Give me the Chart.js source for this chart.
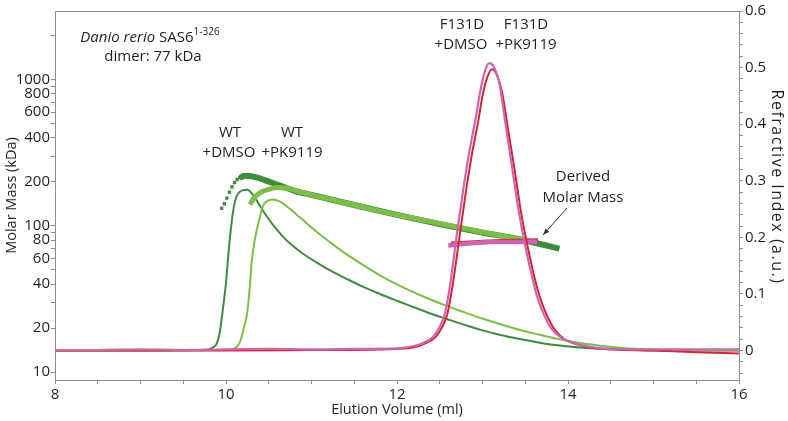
<!DOCTYPE html>
<html>
<head>
<meta charset="utf-8">
<script src="https://cdn.jsdelivr.net/npm/chart.js@4.4.0/dist/chart.umd.min.js"></script>
<style>
  html, body { margin: 0; padding: 0; background: #fff; }
</style>
</head>
<body>
<canvas id="sec" width="788" height="421"></canvas>
<script>
// refractive index traces (elution volume in ml, RI in a.u.)
var wtDmsoRiVol = [8.0, 9.0, 9.6, 9.79, 9.85, 9.89, 9.93, 9.96, 10.0, 10.02, 10.05, 10.08, 10.11, 10.14, 10.19, 10.25, 10.3, 10.36, 10.45, 10.55, 10.65, 10.75, 10.9, 11.1, 11.25, 11.42, 11.6, 11.8, 12.0, 12.19, 12.4, 12.6, 12.8, 12.97, 13.2, 13.45, 13.67, 13.9, 14.26, 14.6, 15.0, 16.0];
var wtDmsoRi = [0, 0, 0.001, 0.002, 0.006, 0.012, 0.035, 0.069, 0.12, 0.156, 0.205, 0.243, 0.266, 0.277, 0.283, 0.284, 0.278, 0.265, 0.243, 0.222, 0.204, 0.189, 0.171, 0.152, 0.139, 0.126, 0.113, 0.1, 0.088, 0.077, 0.065, 0.055, 0.045, 0.037, 0.028, 0.02, 0.014, 0.009, 0.004, 0.002, 0, 0];

var wtPkRiVol = [8.0, 9.0, 9.9, 10.07, 10.12, 10.16, 10.2, 10.25, 10.28, 10.3, 10.33, 10.36, 10.4, 10.43, 10.48, 10.55, 10.62, 10.71, 10.82, 10.95, 11.1, 11.3, 11.5, 11.8, 12.0, 12.3, 12.58, 12.8, 12.97, 13.2, 13.45, 13.67, 13.9, 14.2, 14.6, 15.0, 16.0];
var wtPkRi = [0, 0, 0.001, 0.002, 0.006, 0.014, 0.035, 0.069, 0.115, 0.156, 0.19, 0.213, 0.238, 0.255, 0.264, 0.267, 0.264, 0.255, 0.241, 0.224, 0.205, 0.182, 0.161, 0.133, 0.117, 0.096, 0.079, 0.067, 0.058, 0.047, 0.036, 0.028, 0.02, 0.012, 0.005, 0.002, 0];

var f131dDmsoRiVol = [8.0, 9.0, 10.0, 11.0, 11.8, 12.0, 12.2, 12.32, 12.45, 12.53, 12.59, 12.65, 12.73, 12.81, 12.88, 12.95, 13.0, 13.05, 13.11, 13.16, 13.23, 13.3, 13.38, 13.45, 13.53, 13.61, 13.68, 13.76, 13.84, 13.96, 14.15, 14.4, 15.0, 15.5, 16.0];
var f131dDmsoRi = [0, 0, 0, 0.001, 0.002, 0.003, 0.006, 0.012, 0.024, 0.042, 0.065, 0.115, 0.2, 0.285, 0.35, 0.405, 0.45, 0.48, 0.497, 0.49, 0.455, 0.39, 0.315, 0.245, 0.182, 0.128, 0.09, 0.06, 0.038, 0.02, 0.009, 0.003, 0, -0.003, -0.005];

var f131dPkRiVol = [8.0, 8.5, 9.0, 9.5, 10.0, 10.5, 11.0, 11.5, 12.0, 12.2, 12.3, 12.42, 12.5, 12.56, 12.62, 12.7, 12.78, 12.85, 12.92, 12.97, 13.02, 13.08, 13.13, 13.2, 13.27, 13.35, 13.42, 13.5, 13.58, 13.65, 13.73, 13.8, 13.93, 14.12, 14.4, 15.0, 16.0];
var f131dPkRi = [0.001, 0.001, 0.002, 0.001, 0.002, 0.003, 0.002, 0.003, 0.004, 0.008, 0.013, 0.024, 0.042, 0.065, 0.115, 0.205, 0.29, 0.355, 0.41, 0.455, 0.49, 0.508, 0.502, 0.47, 0.4, 0.32, 0.25, 0.185, 0.13, 0.09, 0.06, 0.04, 0.022, 0.011, 0.004, 0.002, 0.002];

// derived molar mass (kDa)
var wtDmsoMassVol = [9.95, 9.98, 10.01, 10.04, 10.07, 10.1, 10.13, 10.16, 10.22, 10.3, 10.4, 10.5, 10.6, 10.8, 11.0, 11.5, 12.0, 12.5, 13.0, 13.3, 13.6, 13.9];
var wtDmsoMass = [132, 142, 155, 170, 185, 198, 208, 214, 220, 219, 211, 201, 192, 174, 163, 139, 119, 103, 90, 84, 77, 70];

var wtPkMassVol = [10.28, 10.33, 10.4, 10.5, 10.6, 10.7, 10.85, 11.0, 11.5, 12.0, 12.5, 13.0, 13.3, 13.62];
var wtPkMass = [140, 156, 169, 178, 183, 182, 172, 163, 139, 119, 104, 91, 84, 78];

var f131dDmsoMassVol = [12.63, 12.75, 12.9, 13.05, 13.2, 13.35, 13.5, 13.65];
var f131dDmsoMass = [75.5, 76, 77, 78, 78.5, 79, 79, 79.5];

var f131dPkMassVol = [12.6, 12.7, 12.8, 12.9, 13.0, 13.1, 13.2, 13.3, 13.4, 13.5, 13.64];
var f131dPkMass = [73.5, 74.5, 75.5, 76.5, 77, 77.5, 77.5, 77.5, 77.5, 78, 78];

// ticks
var xTickVals = [8, 8.5, 9, 9.5, 10, 10.5, 11, 11.5, 12, 12.5, 13, 13.5, 14, 14.5, 15, 15.5, 16];
var xLabels = [8, 10, 12, 14, 16];
var massLabels = [10, 20, 40, 60, 80, 100, 200, 400, 600, 800, 1000];
var massMinor = [30, 50, 70, 90, 300, 500, 700, 900, 2000];
var riLabels = [0, 0.1, 0.2, 0.3, 0.4, 0.5, 0.6];

var riTickVals = [];
for (var i = -2; i <= 30; i++) riTickVals.push(Math.round(i * 2) / 100);

function pts(xs, ys) {
  return xs.map(function (x, i) { return { x: x, y: ys[i] }; });
}

var DARK = 'rgb(64,140,62)';
var LIGHT = 'rgb(124,190,72)';
var RED = 'rgb(212,36,52)';
var PINK = 'rgb(204,102,176)';
var AXIS = '#8c8c8c';
var FONT = '"Open Sans", "DejaVu Sans", sans-serif';
var TXT = '#231f20';

var notes = {
  id: 'notes',
  afterDraw: function (chart) {
    var ctx = chart.ctx, a = chart.chartArea;
    ctx.save();
    ctx.strokeStyle = AXIS;
    ctx.lineWidth = 1;
    ctx.beginPath();
    ctx.moveTo(a.left, a.top + 0.5);
    ctx.lineTo(a.right, a.top + 0.5);
    ctx.stroke();

    ctx.fillStyle = TXT;
    ctx.textBaseline = 'middle';

    // right axis title, spaced out as in the original
    ctx.save();
    ctx.translate(777, 187);
    ctx.rotate(Math.PI / 2);
    ctx.textAlign = 'center';
    ctx.font = '16px ' + FONT;
    ctx.letterSpacing = '1.5px';
    ctx.fillText('Refractive Index (a.u.)', 0, 0);
    ctx.restore();

    // sample title with superscript
    var t1 = 'Danio rerio', t2 = ' SAS6', t3 = '1-326';
    ctx.font = 'italic 15px ' + FONT;
    var w1 = ctx.measureText(t1).width;
    ctx.font = '15px ' + FONT;
    var w2 = ctx.measureText(t2).width;
    ctx.font = '10px ' + FONT;
    var w3 = ctx.measureText(t3).width;
    var x0 = 150 - (w1 + w2 + w3) / 2;
    ctx.textAlign = 'left';
    ctx.font = 'italic 15px ' + FONT;
    ctx.fillText(t1, x0, 38);
    ctx.font = '15px ' + FONT;
    ctx.fillText(t2, x0 + w1, 38);
    ctx.font = '10px ' + FONT;
    ctx.fillText(t3, x0 + w1 + w2, 32);

    ctx.textAlign = 'center';
    ctx.font = '15px ' + FONT;
    ctx.fillText('dimer: 77 kDa', 153, 57);

    ctx.fillText('WT', 230, 133);
    ctx.fillText('+DMSO', 229, 153);
    ctx.fillText('WT', 292, 133);
    ctx.fillText('+PK9119', 292, 153);

    ctx.fillText('F131D', 462, 25);
    ctx.fillText('+DMSO', 461, 45);
    ctx.fillText('F131D', 526, 25);
    ctx.fillText('+PK9119', 526, 45);

    ctx.fillText('Derived', 583, 177);
    ctx.fillText('Molar Mass', 583, 198);

    // arrow to the mass trace
    var ax = 567, ay = 208, bx = 543, by = 235;
    ctx.strokeStyle = '#333';
    ctx.fillStyle = '#333';
    ctx.lineWidth = 1;
    ctx.beginPath();
    ctx.moveTo(ax, ay);
    ctx.lineTo(bx, by);
    ctx.stroke();
    var ang = Math.atan2(by - ay, bx - ax);
    ctx.beginPath();
    ctx.moveTo(bx, by);
    ctx.lineTo(bx - 7 * Math.cos(ang - 0.35), by - 7 * Math.sin(ang - 0.35));
    ctx.lineTo(bx - 7 * Math.cos(ang + 0.35), by - 7 * Math.sin(ang + 0.35));
    ctx.closePath();
    ctx.fill();
    ctx.restore();
  }
};

function riLine(label, xs, ys, color, width, order) {
  return {
    label: label, data: pts(xs, ys), yAxisID: 'ri',
    borderColor: color, borderWidth: width, pointRadius: 0,
    cubicInterpolationMode: 'monotone', fill: false, order: order
  };
}

function massLine(label, xs, ys, color, width, order) {
  return {
    label: label, data: pts(xs, ys), yAxisID: 'mass',
    borderColor: color, borderWidth: width, pointRadius: 0,
    cubicInterpolationMode: 'monotone', fill: false, order: order
  };
}

var datasets = [
  riLine('F131D +PK9119 RI', f131dPkRiVol, f131dPkRi, PINK, 2.2, 0),
  riLine('F131D +DMSO RI', f131dDmsoRiVol, f131dDmsoRi, RED, 2, 1),
  massLine('F131D +PK9119 mass', f131dPkMassVol, f131dPkMass, PINK, 4.5, 2),
  massLine('F131D +DMSO mass', f131dDmsoMassVol, f131dDmsoMass, RED, 4.5, 3),
  massLine('WT +PK9119 mass', wtPkMassVol, wtPkMass, LIGHT, 5, 4),
  massLine('WT +DMSO mass', wtDmsoMassVol.slice(7), wtDmsoMass.slice(7), DARK, 6, 5),
  {
    label: 'WT +DMSO mass start', data: pts(wtDmsoMassVol.slice(0, 8), wtDmsoMass.slice(0, 8)),
    yAxisID: 'mass', showLine: false, pointStyle: 'rect', pointRadius: 2.4,
    pointBackgroundColor: DARK, pointBorderWidth: 0, order: 5
  },
  riLine('WT +PK9119 RI', wtPkRiVol, wtPkRi, LIGHT, 2, 6),
  riLine('WT +DMSO RI', wtDmsoRiVol, wtDmsoRi, DARK, 2, 7)
];

function axisGrid() {
  return {
    display: true, drawOnChartArea: false, drawTicks: true, tickLength: 4,
    color: AXIS, tickColor: AXIS, lineWidth: 1
  };
}

new Chart(document.getElementById('sec'), {
  type: 'line',
  data: { datasets: datasets },
  plugins: [notes],
  options: {
    responsive: false,
    animation: false,
    layout: { padding: { top: 4, left: 0, right: 0, bottom: 0 } },
    plugins: { legend: { display: false }, tooltip: { enabled: false } },
    scales: {
      x: {
        type: 'linear', position: 'bottom', min: 8, max: 16,
        grid: axisGrid(),
        border: { display: true, color: AXIS },
        afterBuildTicks: function (s) { s.ticks = xTickVals.map(function (v) { return { value: v }; }); },
        afterFit: function (s) { s.height = 41; },
        ticks: {
          autoSkip: false, maxRotation: 0, minRotation: 0, padding: 2,
          color: TXT, font: { family: FONT, size: 15 },
          callback: function (v) { return xLabels.indexOf(v) >= 0 ? String(v) : ''; }
        },
        title: {
          display: true, text: 'Elution Volume (ml)', color: TXT,
          font: { family: FONT, size: 14.5 }, padding: { top: 0, bottom: 2 }
        }
      },
      mass: {
        type: 'logarithmic', position: 'left', min: 8.84, max: 2950,
        grid: axisGrid(),
        border: { display: true, color: AXIS },
        afterBuildTicks: function (s) {
          s.ticks = massLabels.concat(massMinor).map(function (v) { return { value: v }; });
        },
        afterFit: function (s) { s.width = 55; },
        ticks: {
          autoSkip: false, padding: 1, color: TXT, font: { family: FONT, size: 15 },
          callback: function (v) { return massLabels.indexOf(v) >= 0 ? String(v) : ''; }
        },
        title: {
          display: true, text: 'Molar Mass (kDa)', color: TXT,
          font: { family: FONT, size: 14.5 }, padding: { top: 3, bottom: 0 }
        }
      },
      ri: {
        type: 'linear', position: 'right', min: -0.052, max: 0.6,
        grid: axisGrid(),
        border: { display: true, color: AXIS },
        afterBuildTicks: function (s) {
          s.ticks = riTickVals.map(function (v) { return { value: v }; });
        },
        afterFit: function (s) { s.width = 49; },
        ticks: {
          autoSkip: false, padding: 2, color: TXT, font: { family: FONT, size: 15 },
          callback: function (v) {
            var r = Math.round(v * 100) / 100;
            return riLabels.indexOf(r) >= 0 ? String(r) : '';
          }
        },
        title: { display: false }
      }
    }
  }
});
</script>
</body>
</html>
